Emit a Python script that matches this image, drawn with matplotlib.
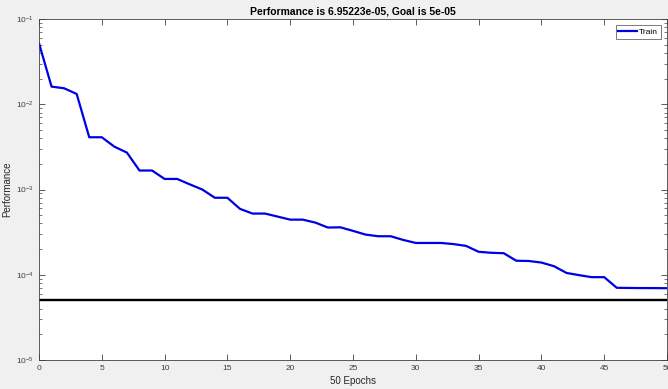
import numpy as np
import matplotlib
matplotlib.use("Agg")
import matplotlib.pyplot as plt
from matplotlib.ticker import LogLocator, FixedLocator

# ====================== Data ======================
epochs = list(range(0, 51))
train_perf = [
    0.052, 0.0161, 0.0154, 0.0132, 0.0041, 0.0041, 0.00318, 0.00271, 0.00167, 0.00167,
    0.00133, 0.00133, 0.00115, 0.00100, 0.00080, 0.00080, 0.000593, 0.000522, 0.000522, 0.000481,
    0.000443, 0.000443, 0.000409, 0.000358, 0.000360, 0.000327, 0.000296, 0.000283, 0.000283, 0.000256,
    0.000236, 0.000236, 0.000236, 0.000229, 0.000218, 0.000186, 0.000181, 0.000179, 0.000146, 0.000145,
    0.000139, 0.000126, 0.000105, 0.0000989, 0.0000937, 0.0000937, 0.0000703, 0.0000700, 0.0000698, 0.0000697,
    0.0000695223,
]
goal = 5e-05
x_ticks = [0, 5, 10, 15, 20, 25, 30, 35, 40, 45, 50]

# ====================== Plot ======================
plt.rcParams["font.family"] = ["Liberation Sans", "DejaVu Sans"]

fig = plt.figure(figsize=(6.68, 3.89), dpi=100, facecolor="#f0f0f0")
ax = fig.add_axes([39 / 668, 1 - 360 / 389, 628 / 668, 341 / 389])
ax.set_facecolor("white")

ax.plot(epochs, train_perf, color="#0000e6", linewidth=1.6, label="Train")
ax.axhline(goal, color="black", linewidth=1.7)

ax.set_yscale("log")
ax.set_xlim(0, 50)
ax.set_ylim(1e-5, 1e-1)
ax.xaxis.set_major_locator(FixedLocator(x_ticks))
ax.yaxis.set_major_locator(LogLocator(base=10, numticks=10))
ax.yaxis.set_minor_locator(LogLocator(base=10, subs=np.arange(2, 10), numticks=10))

ax.tick_params(which="both", direction="in", top=True, right=True,
               colors="#404040", labelsize=6, labelcolor="#404040")
ax.tick_params(which="major", length=4, width=0.6)
ax.tick_params(which="minor", length=2, width=0.5)
for s in ax.spines.values():
    s.set_color("#404040")
    s.set_linewidth(0.6)

ax.set_title("Performance is 6.95223e-05, Goal is 5e-05", fontsize=7.5,
             fontweight="bold", pad=3)
ax.set_xlabel("50 Epochs", fontsize=7, color="#262626", labelpad=3)
ax.set_ylabel("Performance", fontsize=7, color="#262626", labelpad=3)

leg = ax.legend(loc="upper right", fontsize=6, frameon=True, fancybox=False,
                handlelength=2.2, handletextpad=0.3, borderpad=0.35,
                borderaxespad=0.7)
leg.get_frame().set_edgecolor("#404040")
leg.get_frame().set_linewidth(0.6)

fig.savefig("out.png", dpi=100, facecolor=fig.get_facecolor())
